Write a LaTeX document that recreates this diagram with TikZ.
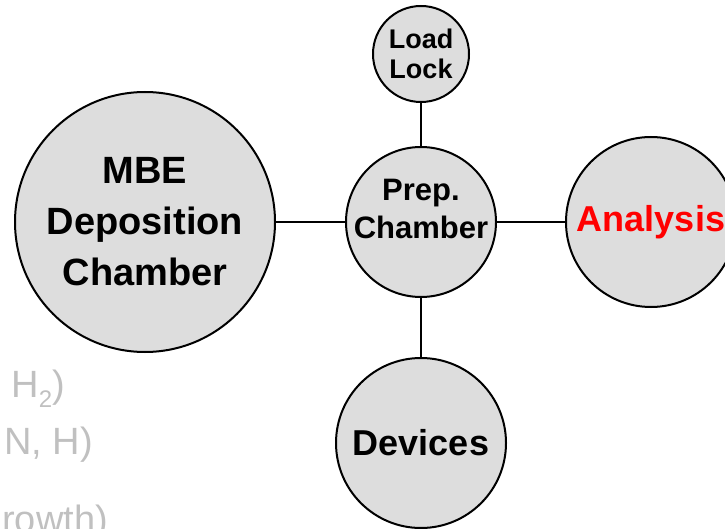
\documentclass[tikz,border=0pt]{standalone}
\usepackage{fontspec}
\setmainfont{Liberation Sans}
\definecolor{chamberfill}{RGB}{221,221,221}
\definecolor{notegray}{RGB}{192,192,192}
\definecolor{labelred}{RGB}{255,0,0}
\begin{document}
\begin{tikzpicture}[x=1pt,y=-1pt,
  chamber/.style={circle, draw=black, line width=2pt, fill=chamberfill,
    inner sep=0pt, align=center},
  bigtext/.style={font=\bfseries\fontsize{36}{50}\selectfont},
  link/.style={draw=black, line width=2pt},
  note/.style={text=notegray, inner sep=0pt, anchor=base east,
    font=\fontsize{38}{38}\selectfont}]
  \useasboundingbox (0,0) rectangle (725,529);
  \clip (0,0) rectangle (725,529);

  % chambers of the cluster tool
  \node[chamber, minimum size=260pt,
    font=\bfseries\fontsize{38}{51}\selectfont] (mbe) at (145,222)
    {MBE\\Deposition\\Chamber};
  \node[chamber, minimum size=150pt] (prep) at (421,222) {};
  \node[align=center, inner sep=0pt,
    font=\bfseries\fontsize{31}{38}\selectfont] (preptext)
    at ([yshift=13pt]prep.center) {Prep.\\Chamber};
  \node[chamber, minimum size=96pt,
    font=\bfseries\fontsize{27}{30}\selectfont] (load) at (421,54)
    {Load\\Lock};
  \node[chamber, bigtext, minimum size=170pt, text=labelred] (ana)
    at (651,222) {Analysis};
  \node[chamber, bigtext, minimum size=170pt] (dev) at (421,443)
    {Devices};

  % transfer lines
  \draw[link] (mbe) -- (prep);
  \draw[link] (prep) -- (ana);
  \draw[link] (load) -- (prep);
  \draw[link] (prep) -- (dev);

  % notes at the left edge
  \node[note] (n1) at (65,397) {H\raisebox{-0.28em}{\fontsize{24}{24}\selectfont 2})};
  \node[note] (n2) at (93,454) {N, H)};
  \node[note] (n3) at (108,532) {rowth)};
\end{tikzpicture}
\end{document}
